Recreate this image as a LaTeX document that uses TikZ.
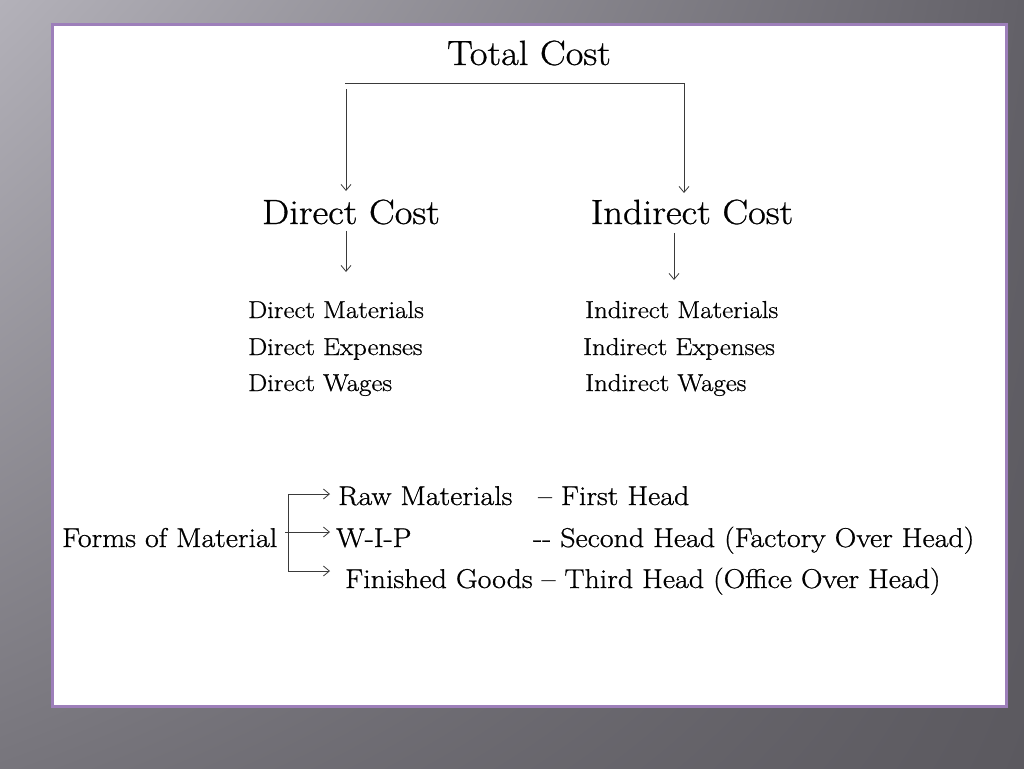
\documentclass[tikz,border=0pt]{standalone}
\usepackage{fontspec}
\setmainfont{Latin Modern Roman}[FakeStretch=1.1,FakeBold=0.8]
\usetikzlibrary{arrows.meta,shadings}

\definecolor{bgtl}{HTML}{B3B1B9}
\definecolor{bgtr}{HTML}{636168}
\definecolor{bgbl}{HTML}{77757C}
\definecolor{bgbr}{HTML}{5B595F}
\definecolor{frame}{HTML}{9D7FBA}
\definecolor{linegray}{HTML}{3A3A3A}

\tikzset{
    link/.style={line width=0.8pt, draw=linegray},
    arr/.style={link, -{Straight Barb[length=6pt,width=10pt]}},
    head/.style={font=\fontsize{35}{40}\selectfont, inner sep=0pt, anchor=base},
    item/.style={font=\fontsize{24.5}{29}\selectfont, inner sep=0pt, anchor=base west},
    form/.style={font=\fontsize{27.2}{32}\selectfont, inner sep=0pt, anchor=base west},
}

\begin{document}
\begin{tikzpicture}[x=1pt,y=-1pt]
        \useasboundingbox (0,0) rectangle (1024,768);
        \shade[upper left=bgtl, upper right=bgtr, lower left=bgbl, lower right=bgbr] (0,0) rectangle (1024,768);
        \draw[fill=white, draw=frame, line width=3pt] (52,25) rectangle (1006,706);

        % cost heads
        \node[head] (total) at (529,65) {Total Cost};
        \node[head] (direct) at (351,224) {Direct Cost};
        \node[head] (indirect) at (692,224) {Indirect Cost};

        \coordinate (tl) at (345,83);
        \coordinate (tr) at (684,83);
        \coordinate (dtop) at (346,89);
        \coordinate (dtip) at (346,191);
        \coordinate (itip) at (684,193);
        \draw[link] (tl) -- (tr);
        \draw[arr] (dtop) -- (dtip);
        \draw[arr] (tr) -- (itip);

        % items
        \node[item] (dmat) at (248,318) {Direct Materials};
        \node[item] (dexp) at (248,355) {Direct Expenses};
        \node[item] (dwag) at (248,391) {Direct Wages};
        \node[item] (imat) at (585,318) {Indirect Materials};
        \node[item] (iexp) at (583,355) {Indirect Expenses};
        \node[item] (iwag) at (585,391) {Indirect Wages};

        \coordinate (dlist) at (346,272);
        \coordinate (ilist) at (674,280);
        \draw[arr] ([yshift=-6pt]direct.south -| dlist) -- (dlist);
        \draw[arr] ([yshift=-8pt]indirect.south -| ilist) -- (ilist);

        % forms of material
        \node[form] (forms) at (62,547) {Forms of Material};
        \node[form] (raw) at (338,505) {Raw Materials};
        \node[form] (rawhead) at (538,505) {-- First Head};
        \node[form] (wip) at (336,547) {W-I-P};
        \node[form] (wiphead) at (533,547) {-{}- Second Head (Factory Over Head)};
        \node[form] (fin) at (345,588) {Finished Goods -- Third Head (Office Over Head)};

        \coordinate (ft) at (288,494);
        \coordinate (fm) at (285,532);
        \coordinate (fb) at (288,571);
        \draw[link] (ft) -- (fb);
        \draw[arr] (ft) -- (330,494);
        \draw[arr] (fm) -- (330,532);
        \draw[arr] (fb) -- (330,571);
\end{tikzpicture}
\end{document}
